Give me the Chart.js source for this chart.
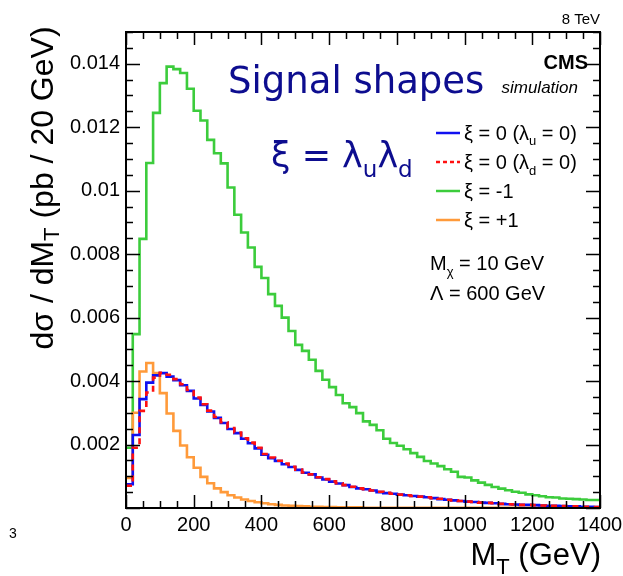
<!DOCTYPE html>
<html lang="en">
<head>
    <meta charset="UTF-8">
    <title>Signal shapes</title>
    <script src="https://cdn.jsdelivr.net/npm/chart.js"></script>
    <style>
        body { margin: 0; background: white; }
        #wrap { width: 623px; height: 576px; }
    </style>
</head>
<body>
<div id="wrap"><canvas id="chart" width="623" height="576"></canvas></div>
<script>
    // M_T bins, 20 GeV wide, 0 -> 1400 GeV
    const BIN_WIDTH = 20;
    const N_BINS = 70;
    const binLow = Array.from({ length: N_BINS }, (_, i) => i * BIN_WIDTH);

    // xi = 0 (lambda_u = 0)  -- blue
    const xiZeroU = [
        0.00075, 0.0023, 0.00343, 0.00395, 0.00418, 0.00425, 0.00414, 0.00403, 0.00387, 0.00369,
        0.00345, 0.00325, 0.00304, 0.00284, 0.00268, 0.00249, 0.00236, 0.00218, 0.00204, 0.00188,
        0.00168, 0.00157, 0.00148, 0.00138, 0.00129, 0.0012, 0.00111, 0.00106, 0.00096, 0.0009,
        0.00083, 0.00077, 0.00072, 0.00066, 0.00062, 0.00059, 0.00055, 0.0005, 0.00047, 0.00045,
        0.00042, 0.0004, 0.00038, 0.00036, 0.00034, 0.00031, 0.00028, 0.00026, 0.00024, 0.00022,
        0.0002, 0.00019, 0.00017, 0.00016, 0.00015, 0.00013, 0.00012, 0.00011, 0.0001, 0.0001,
        0.00009, 0.00008, 0.00007, 0.00007, 0.00006, 0.00005, 0.00005, 0.00004, 0.00004, 0.00003
    ];
    // xi = 0 (lambda_d = 0)  -- red dashed
    const xiZeroD = [
        0.0007, 0.0019, 0.00306, 0.00364, 0.00411, 0.00426, 0.0042, 0.00406, 0.0039, 0.00372,
        0.00348, 0.00327, 0.00307, 0.00287, 0.0027, 0.00252, 0.00238, 0.0022, 0.00206, 0.0019,
        0.0017, 0.00159, 0.00149, 0.0014, 0.0013, 0.00121, 0.00112, 0.00106, 0.00097, 0.00091,
        0.00084, 0.00078, 0.00072, 0.00067, 0.00062, 0.00059, 0.00055, 0.00051, 0.00048, 0.00045,
        0.00042, 0.0004, 0.00038, 0.00036, 0.00034, 0.00031, 0.00029, 0.00026, 0.00024, 0.00022,
        0.0002, 0.00019, 0.00017, 0.00016, 0.00015, 0.00013, 0.00012, 0.00011, 0.0001, 0.0001,
        0.00009, 0.00008, 0.00007, 0.00007, 0.00006, 0.00005, 0.00005, 0.00004, 0.00004, 0.00003
    ];
    // xi = -1  -- green
    const xiMinusOne = [
        0.0019, 0.00548, 0.00848, 0.01087, 0.01245, 0.01339, 0.01391, 0.01383, 0.01371, 0.01321,
        0.01252, 0.01221, 0.0116, 0.01118, 0.01086, 0.0101, 0.00924, 0.00868, 0.00821, 0.0076,
        0.00725, 0.00674, 0.00637, 0.006, 0.00558, 0.00514, 0.00495, 0.00467, 0.00432, 0.00404,
        0.00381, 0.00356, 0.0033, 0.00318, 0.00299, 0.00273, 0.00262, 0.00245, 0.00218, 0.00205,
        0.00196, 0.00185, 0.00173, 0.00161, 0.00148, 0.0014, 0.00132, 0.00122, 0.00114, 0.00098,
        0.00096, 0.00087, 0.0008, 0.00073, 0.00066, 0.00061, 0.00056, 0.00051, 0.00048, 0.00043,
        0.0004, 0.00037, 0.00034, 0.00033, 0.0003, 0.00029, 0.00028, 0.00027, 0.00025, 0.00025
    ];
    // xi = +1  -- orange
    const xiPlusOne = [
        0.00095, 0.003, 0.0043, 0.00457, 0.00425, 0.00362, 0.00298, 0.00243, 0.00197, 0.0016,
        0.00127, 0.00098, 0.00078, 0.00062, 0.0005, 0.0004, 0.00033, 0.00027, 0.00022, 0.00018,
        0.00015, 0.00012, 0.0001, 0.00008, 0.00007, 0.00006, 0.00005, 0.00004, 0.00004, 0.00003,
        0.00003, 0.00002, 0.00002, 0.00002, 0.00002, 0.00001, 0.00001, 0.00001, 0.00001, 0.00001,
        0.00001, 0.00001, 0.00001, 0.00001, 0.00001, 0.00001, 0.00001, 0.00001, 0.00001, 0.00001,
        0.00001, 0.00001, 0.00001, 0.00001, 0.00001, 0.00001, 0.00001, 0.00001, 0.00001, 0.00001,
        0.00001, 0.00001, 0.00001, 0.00001, 0.00001, 0.00001, 0.00001, 0.00001, 0.00001, 0.00001
    ];

    const X_MIN = 0, X_MAX = 1400, X_STEP = 200;
    const Y_MIN = 0, Y_MAX = 0.015, Y_STEP = 0.002;

    const FONT = '"Liberation Sans", Arial, Helvetica, sans-serif';
    const NAVY = '#0d0d8f';

    // histogram outline: one point per bin low edge + closing point at the upper edge
    function histPoints(values) {
        const pts = binLow.map((x, i) => ({ x: x, y: values[i] }));
        pts.push({ x: binLow[N_BINS - 1] + BIN_WIDTH, y: values[N_BINS - 1] });
        return pts;
    }

    const series = [
        { label: 'xi=0 (lu=0)', data: xiZeroU, color: '#1010f0', dash: [], order: 1 },
        { label: 'xi=0 (ld=0)', data: xiZeroD, color: '#ff1010', dash: [6, 5], order: 0 },
        { label: 'xi=-1', data: xiMinusOne, color: '#3ccc3c', dash: [], order: 3 },
        { label: 'xi=+1', data: xiPlusOne, color: '#ff9a3a', dash: [], order: 2 }
    ];

    // draw rich text made of parts {t, size, dy, style}
    function drawParts(ctx, parts, x, y, align, family, color) {
        ctx.save();
        ctx.fillStyle = color;
        ctx.textBaseline = 'alphabetic';
        ctx.textAlign = 'left';
        let total = 0;
        parts.forEach(p => {
            ctx.font = (p.style || '') + ' ' + p.size + 'px ' + family;
            p.w = ctx.measureText(p.t).width;
            total += p.w;
        });
        let cx = align === 'right' ? x - total : (align === 'center' ? x - total / 2 : x);
        parts.forEach(p => {
            ctx.font = (p.style || '') + ' ' + p.size + 'px ' + family;
            ctx.fillText(p.t, cx, y + (p.dy || 0));
            cx += p.w;
        });
        ctx.restore();
    }

    const decorPlugin = {
        id: 'decor',
        afterDraw(chart) {
            const ctx = chart.ctx;
            const area = chart.chartArea;
            const xs = chart.scales.x, ys = chart.scales.y;

            // frame
            ctx.save();
            ctx.strokeStyle = '#000';
            ctx.lineWidth = 2;
            ctx.strokeRect(area.left, area.top, area.right - area.left, area.bottom - area.top);

            // ticks inside the frame, all four sides
            ctx.lineWidth = 1.5;
            ctx.beginPath();
            for (let v = X_MIN; v <= X_MAX; v += 50) {
                const px = Math.round(xs.getPixelForValue(v)) + 0.5;
                const len = v % X_STEP === 0 ? 13 : 7;
                ctx.moveTo(px, area.bottom); ctx.lineTo(px, area.bottom - len);
                ctx.moveTo(px, area.top); ctx.lineTo(px, area.top + len);
            }
            for (let k = 0; k * 0.0005 <= Y_MAX + 1e-9; k++) {
                const v = k * 0.0005;
                const py = Math.round(ys.getPixelForValue(v)) + 0.5;
                const len = k % 4 === 0 ? 14 : 7;
                ctx.moveTo(area.left, py); ctx.lineTo(area.left + len, py);
                ctx.moveTo(area.right, py); ctx.lineTo(area.right - len, py);
            }
            ctx.stroke();
            ctx.restore();

            // axis titles
            ctx.save();
            ctx.translate(53, 188);
            ctx.rotate(-Math.PI / 2);
            drawParts(ctx, [
                { t: 'd\u03c3 / dM', size: 32 },
                { t: 'T', size: 22, dy: 6 },
                { t: ' (pb / 20 GeV)', size: 32 }
            ], 0, 0, 'center', FONT, '#000');
            ctx.restore();

            drawParts(ctx, [
                { t: 'M', size: 31 },
                { t: 'T', size: 22, dy: 9 },
                { t: ' (GeV)', size: 31 }
            ], 601, 565, 'right', FONT, '#000');

            // top labels
            drawParts(ctx, [{ t: '8 TeV', size: 15 }], 600, 24, 'right', FONT, '#000');
            drawParts(ctx, [{ t: 'CMS', size: 20, style: 'bold' }], 588, 69, 'right', FONT, '#000');
            drawParts(ctx, [{ t: 'simulation', size: 17, style: 'italic' }], 578, 93, 'right', FONT, '#000');
            drawParts(ctx, [{ t: '3', size: 14 }], 9, 538, 'left', FONT, '#000');

            // titles in navy
            const SANS2 = '"DejaVu Sans", Verdana, sans-serif';
            drawParts(ctx, [{ t: 'Signal shapes', size: 37 }], 228, 93, 'left', SANS2, NAVY);
            drawParts(ctx, [
                { t: '\u03be = \u03bb', size: 35 },
                { t: 'u', size: 23, dy: 10 },
                { t: '\u03bb', size: 35 },
                { t: 'd', size: 23, dy: 10 }
            ], 271, 167, 'left', SANS2, NAVY);

            // legend
            const rows = [
                { s: series[0], y: 133, parts: [{ t: '\u03be = 0 (\u03bb', size: 20 }, { t: 'u', size: 13, dy: 5 }, { t: ' = 0)', size: 20 }] },
                { s: series[1], y: 162, parts: [{ t: '\u03be = 0 (\u03bb', size: 20 }, { t: 'd', size: 13, dy: 6 }, { t: ' = 0)', size: 20 }] },
                { s: series[2], y: 191, parts: [{ t: '\u03be = -1', size: 20 }] },
                { s: series[3], y: 220, parts: [{ t: '\u03be = +1', size: 20 }] }
            ];
            rows.forEach(r => {
                ctx.save();
                ctx.strokeStyle = r.s.color;
                ctx.lineWidth = 2.5;
                ctx.setLineDash(r.s.dash.length ? [4, 3] : []);
                ctx.beginPath();
                ctx.moveTo(436, r.y);
                ctx.lineTo(460, r.y);
                ctx.stroke();
                ctx.restore();
                drawParts(ctx, r.parts, 464, r.y + 7, 'left', FONT, '#000');
            });

            drawParts(ctx, [
                { t: 'M', size: 20 },
                { t: '\u03c7', size: 13, dy: 6 },
                { t: ' = 10 GeV', size: 20 }
            ], 430, 270, 'left', FONT, '#000');
            drawParts(ctx, [{ t: '\u039b = 600 GeV', size: 20 }], 430, 300, 'left', FONT, '#000');
        }
    };

    new Chart(document.getElementById('chart'), {
        type: 'line',
        data: {
            datasets: series.map(s => ({
                label: s.label,
                data: histPoints(s.data),
                borderColor: s.color,
                borderWidth: 2.6,
                borderDash: s.dash,
                stepped: 'before',
                pointRadius: 0,
                fill: false,
                order: s.order
            }))
        },
        options: {
            responsive: false,
            animation: false,
            layout: { padding: { top: 32, right: 23, left: 0, bottom: 0 } },
            plugins: {
                legend: { display: false },
                tooltip: { enabled: false }
            },
            scales: {
                x: {
                    type: 'linear',
                    min: X_MIN,
                    max: X_MAX,
                    grid: { display: false, drawTicks: false },
                    border: { display: false },
                    ticks: {
                        stepSize: X_STEP,
                        autoSkip: false,
                        maxRotation: 0,
                        padding: 5,
                        color: '#000',
                        font: { family: FONT, size: 20 },
                        callback: v => String(v)
                    },
                    afterFit: s => { s.height = 68; s.paddingLeft = 0; s.paddingRight = 0; }
                },
                y: {
                    min: Y_MIN,
                    max: Y_MAX,
                    grid: { display: false, drawTicks: false },
                    border: { display: false },
                    ticks: {
                        stepSize: Y_STEP,
                        includeBounds: false,
                        padding: 6,
                        color: '#000',
                        font: { family: FONT, size: 20 },
                        callback: v => (v === 0 ? '' : String(parseFloat(v.toFixed(3))))
                    },
                    afterFit: s => { s.width = 126; s.paddingTop = 0; s.paddingBottom = 0; }
                }
            }
        },
        plugins: [decorPlugin]
    });
</script>
</body>
</html>
